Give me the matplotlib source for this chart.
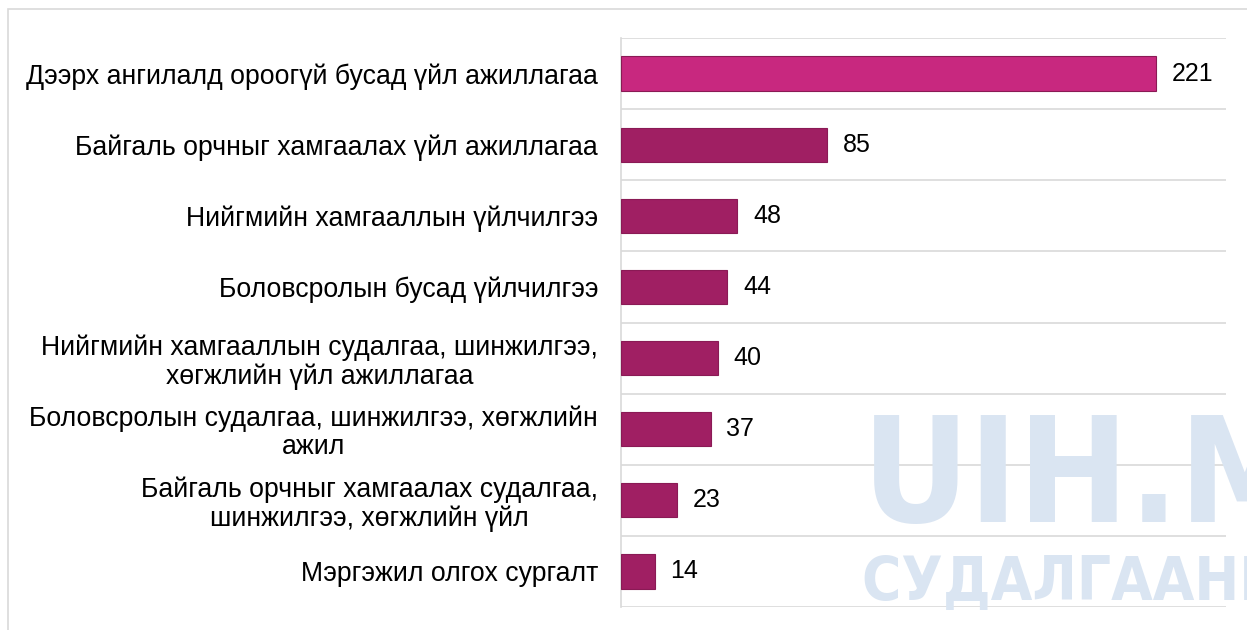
import matplotlib
matplotlib.use("Agg")
import matplotlib.pyplot as plt
from matplotlib.patches import Rectangle

plt.rcParams["font.family"] = ["Liberation Sans", "DejaVu Sans"]

categories = [
    "Дээрх ангилалд ороогүй бусад үйл ажиллагаа",
    "Байгаль орчныг хамгаалах үйл ажиллагаа",
    "Нийгмийн хамгааллын үйлчилгээ",
    "Боловсролын бусад үйлчилгээ",
    "Нийгмийн хамгааллын судалгаа, шинжилгээ,\nхөгжлийн үйл ажиллагаа",
    "Боловсролын судалгаа, шинжилгээ, хөгжлийн\nажил",
    "Байгаль орчныг хамгаалах судалгаа,\nшинжилгээ, хөгжлийн үйл",
    "Мэргэжил олгох сургалт",
]
values = [221, 85, 48, 44, 40, 37, 23, 14]

top_color = "#C8287F"
bar_color = "#A01F63"
edge_color = "#8A1A55"

fig = plt.figure(figsize=(12.47, 6.30), dpi=100)
ax = fig.add_axes([621 / 1247, 1 - 607 / 630, 605 / 1247, 569 / 630])

# faint site watermark behind the plot
wm = dict(fontweight="bold", family="DejaVu Sans", fontstretch="condensed",
          color="#DAE5F2", ha="left", va="baseline", zorder=0)
fig.text(862 / 1247, 1 - 522 / 630, "UIH.MN", fontsize=106, **wm)
fig.text(862 / 1247, 1 - 600 / 630, "СУДАЛГААНЫ САН", fontsize=43, **wm)

# outer frame of the chart area
fig.patches.append(Rectangle((8 / 1247, -0.05), 1.1, 1 - 9 / 630 + 0.05,
                             transform=fig.transFigure, fill=False,
                             edgecolor="#D9D9D9", linewidth=1.2, zorder=1))

ax.patch.set_alpha(0)
y = list(range(len(categories)))
colors = [top_color] + [bar_color] * (len(values) - 1)
bars = ax.barh(y, values, height=0.48, color=colors, edgecolor=edge_color,
               linewidth=0.8, zorder=3)

for b, v in zip(bars, values):
    ax.text(b.get_width() + 6.5, b.get_y() + b.get_height() / 2, str(v),
            va="center", ha="left", fontsize=18, color="black")

ax.set_xlim(0, 250)
ax.set_ylim(len(categories) - 0.5, -0.5)
ax.set_yticks(y)
ax.set_yticklabels(categories, fontsize=19.2, multialignment="center",
                   linespacing=1.1)
ax.tick_params(axis="y", length=0, pad=16.5)
ax.set_xticks([])

# horizontal separators between categories
for k in range(len(categories) + 1):
    ax.axhline(k - 0.5, color="#D9D9D9", linewidth=1.2, zorder=1)

for side in ["top", "right", "bottom"]:
    ax.spines[side].set_visible(False)
ax.spines["left"].set_color("#D9D9D9")
ax.spines["left"].set_linewidth(1.2)

fig.savefig("out.png", dpi=100)
